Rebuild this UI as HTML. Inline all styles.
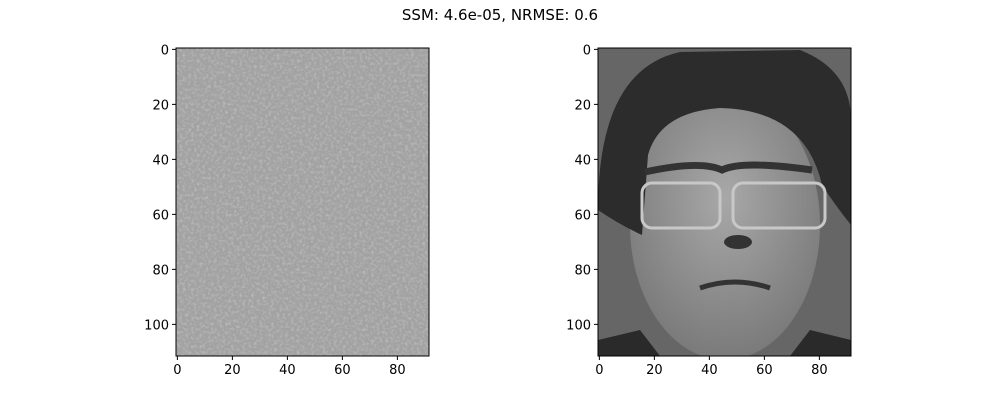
<!DOCTYPE html>
<html><head><meta charset="utf-8"><style>
body{margin:0;background:#fff;}
svg text{font-family:"DejaVu Sans","Liberation Sans",sans-serif;font-size:13px;fill:#000;}
</style></head><body>
<svg id="fig" width="1000" height="400" viewBox="0 0 1000 400">
<defs>
<filter id="noise" x="0" y="0" width="100%" height="100%">
<feTurbulence type="fractalNoise" baseFrequency="0.35" numOctaves="2" seed="3"/>
<feColorMatrix type="matrix" values="0 0 0 0 0.62  0 0 0 0 0.62  0 0 0 0 0.62  0 0 0 -2.2 1.25"/>
</filter>
<radialGradient id="skin" cx="50%" cy="40%" r="60%"><stop offset="0" stop-color="#a8a8a8"/><stop offset="1" stop-color="#7a7a7a"/></radialGradient>
<clipPath id="clipR"><rect x="598" y="48" width="253" height="308"/></clipPath>
</defs>
<text x="500" y="20" text-anchor="middle" style="font-size:15px">SSM: 4.6e-05, NRMSE: 0.6</text>

<g>
<rect x="176" y="48" width="253" height="308" fill="#a2a2a2"/>
<rect x="176" y="48" width="253" height="308" fill="#888" filter="url(#noise)" opacity="0.55"/>
</g>

<g clip-path="url(#clipR)">
<rect x="598" y="48" width="253" height="308" fill="#666"/>
<ellipse cx="725" cy="225" rx="95" ry="135" fill="url(#skin)"/>
<path d="M598 210 Q598 70 680 52 L800 50 Q851 70 851 120 L851 225 Q835 205 822 185 Q805 110 720 108 Q660 112 648 155 L642 235 Q620 225 598 210 Z" fill="#2c2c2c"/>
<path d="M645 172 Q700 160 722 170 Q742 160 812 170" stroke="#333" stroke-width="7" fill="none"/>
<rect x="642" y="183" width="78" height="45" rx="10" fill="none" stroke="#c8c8c8" stroke-width="3"/>
<rect x="733" y="183" width="92" height="45" rx="10" fill="none" stroke="#c8c8c8" stroke-width="3"/>
<ellipse cx="738" cy="242" rx="14" ry="7" fill="#333"/>
<path d="M700 288 Q735 276 770 288" stroke="#333" stroke-width="5" fill="none"/>
<path d="M598 356 L598 340 L640 330 L660 356 Z M851 356 L851 340 L810 330 L790 356 Z" fill="#2a2a2a"/>
</g>
<g id="axes"></g>
</svg>
<script>
const xTicks=[0,20,40,60,80];
const yTicks=[0,20,40,60,80,100];
const nCols=92, nRows=112;
const panels=[{x0:176,name:'left'},{x0:598,name:'right'}];
const top0=48, W=253, H=308;
const ns='http://www.w3.org/2000/svg';
const g=document.getElementById('axes');
function mk(t,a){const e=document.createElementNS(ns,t);for(const k in a)e.setAttribute(k,a[k]);g.appendChild(e);return e;}
panels.forEach(p=>{
  const sx=v=>p.x0+(v+0.5)*W/nCols;
  const sy=v=>top0+(v+0.5)*H/nRows;
  const fr=mk('rect',{x:p.x0,y:top0,width:W,height:H,fill:'none',stroke:'#000','stroke-width':1});
  
  
  xTicks.forEach(v=>{
    const x=sx(v);
    const l=mk('line',{x1:x,x2:x,y1:top0+H,y2:top0+H+4,stroke:'#000'});
    
    
    const t=mk('text',{x:x,y:top0+H+18,'text-anchor':'middle'});t.textContent=v;
    
    
  });
  yTicks.forEach(v=>{
    const y=sy(v);
    const l=mk('line',{x1:p.x0-4,x2:p.x0,y1:y,y2:y,stroke:'#000'});
    
    
    const t=mk('text',{x:p.x0-7,y:y+5,'text-anchor':'end'});t.textContent=v;
    
    
  });
});
</script>
</body></html>
